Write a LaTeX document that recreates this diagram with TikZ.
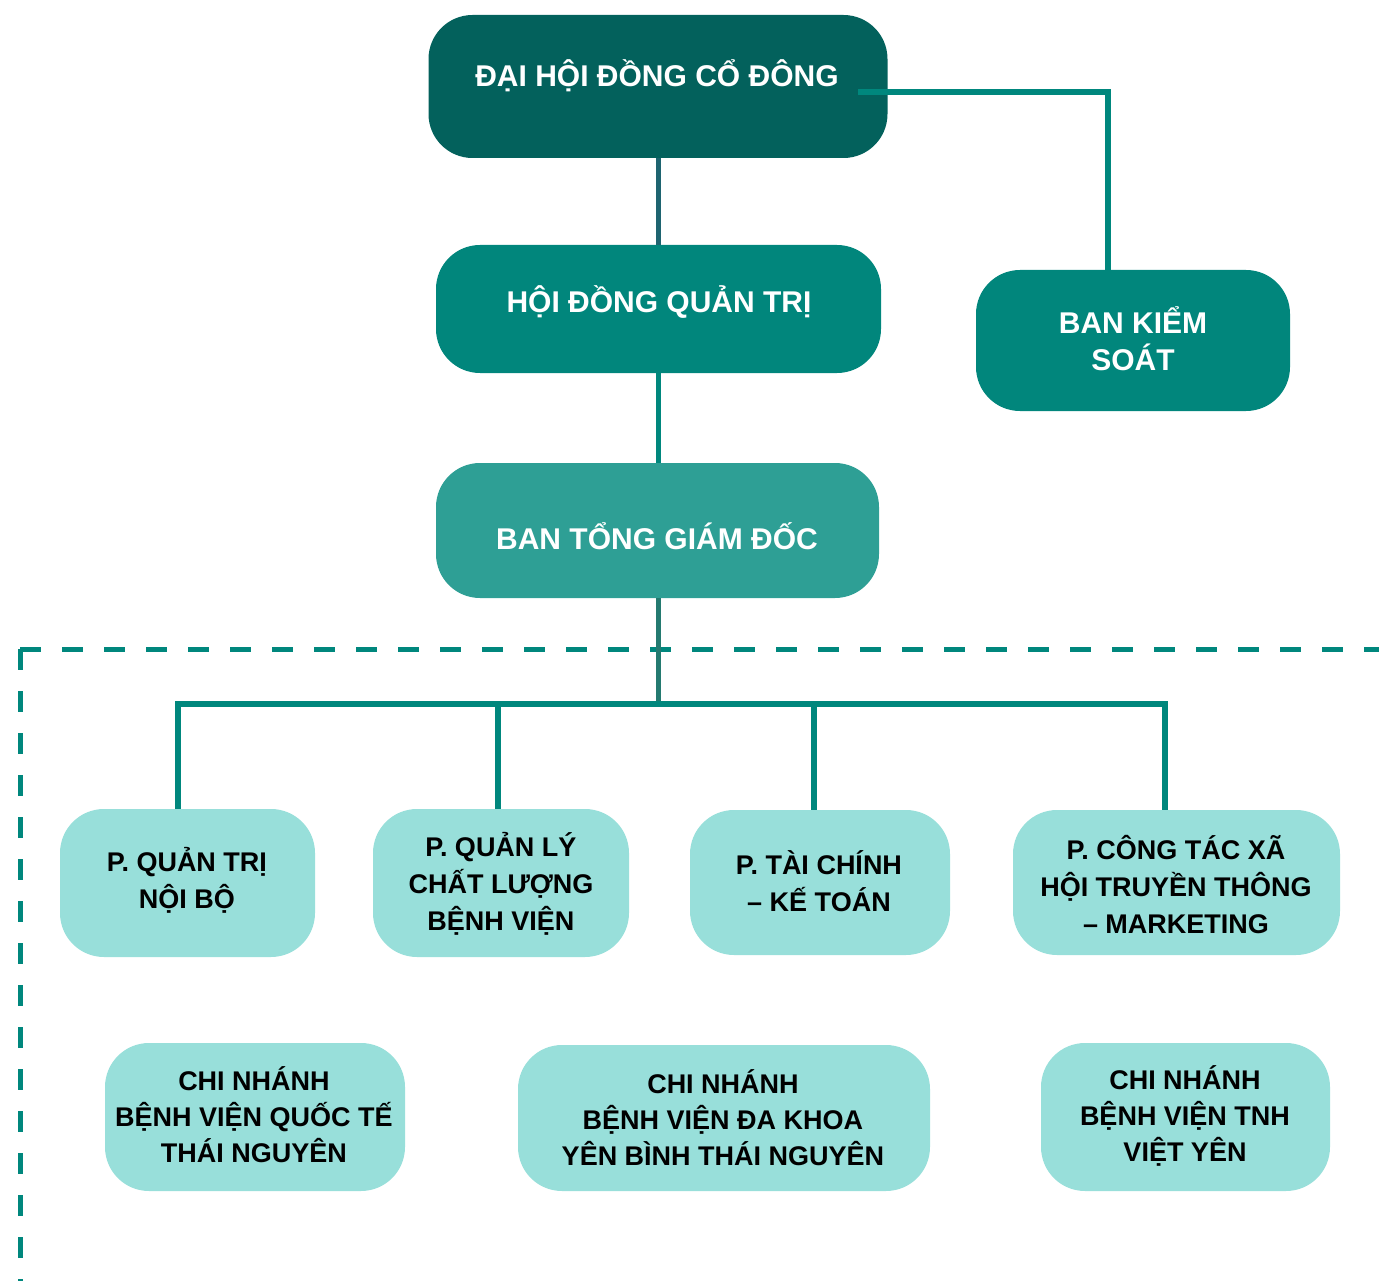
\documentclass[tikz,border=0pt]{standalone}
\usepackage{fontspec}
\setmainfont{Liberation Sans}
\definecolor{cdark}{HTML}{03615C}
\definecolor{cmid}{HTML}{01867C}
\definecolor{cbtgd}{HTML}{2E9F95}
\definecolor{clight}{HTML}{98DFDA}
\definecolor{cline}{HTML}{00877D}
\definecolor{clineA}{HTML}{1E6470}
\definecolor{clineB}{HTML}{247A70}
\begin{document}
\begin{tikzpicture}[x=1pt,y=-1pt,
  box/.style={draw=none, rounded corners=44pt, inner sep=0pt},
  bigtxt/.style={text=white, font=\fontsize{30}{37}\selectfont\bfseries, align=center, inner sep=0pt},
  smalltxt/.style={text=black, font=\fontsize{27}{37}\selectfont\bfseries, align=center, inner sep=0pt},
  chitxt/.style={text=black, font=\fontsize{27}{36}\selectfont\bfseries, align=center, inner sep=0pt},
  conn/.style={draw=cline, line width=5.5pt},
  dashline/.style={draw=cline, line width=5pt, dash pattern=on 21pt off 21pt}
]
\useasboundingbox (0,0) rectangle (1379,1281);

% dashed frame
\coordinate (dc) at (20,649);
\coordinate (dr) at (1390,649);
\coordinate (db) at (20,1295);
\draw[dashline] (dc) -- (dr);
\draw[dashline] (dc) -- (db);

% top boxes
\node[box, fill=cdark, minimum width=459pt, minimum height=143pt] (dhcd) at (658,86.5) {};
\node[bigtxt, anchor=base] (dhcdt) at (657,87) {ĐẠI HỘI ĐỒNG CỔ ĐÔNG};

\node[box, fill=cmid, minimum width=445pt, minimum height=128pt] (hdqt) at (658.5,309) {};
\node[bigtxt, anchor=base] (hdqtt) at (659,313) {HỘI ĐỒNG QUẢN TRỊ};

\node[box, fill=cmid, minimum width=314pt, minimum height=141pt] (bks) at (1133,340.5) {};
\node[bigtxt] (bkst) at (1133,339) {BAN KIỂM\\SOÁT};

\node[box, fill=cbtgd, minimum width=443pt, minimum height=135pt] (btgd) at (657.5,530.5) {};
\node[bigtxt, anchor=base] (btgdt) at (657,549) {BAN TỔNG GIÁM ĐỐC};

% department boxes
\node[box, fill=clight, minimum width=255pt, minimum height=148pt] (p1) at (187.5,883) {};
\node[smalltxt] (p1t) at (187,880) {P. QUẢN TRỊ\\NỘI BỘ};

\node[box, fill=clight, minimum width=256pt, minimum height=148pt] (p2) at (501,883) {};
\node[smalltxt] (p2t) at (501,884) {P. QUẢN LÝ\\CHẤT LƯỢNG\\BỆNH VIỆN};

\node[box, fill=clight, minimum width=260pt, minimum height=145pt] (p3) at (820,882.5) {};
\node[smalltxt] (p3t) at (819,881) {P. TÀI CHÍNH\\– KẾ TOÁN};

\node[box, fill=clight, minimum width=327pt, minimum height=145pt] (p4) at (1176.5,882.5) {};
\node[smalltxt] (p4t) at (1176,885) {P. CÔNG TÁC XÃ\\HỘI TRUYỀN THÔNG\\– MARKETING};

% branch boxes
\node[box, fill=clight, minimum width=300pt, minimum height=148pt] (c1) at (255,1117) {};
\node[chitxt] (c1t) at (254,1115) {CHI NHÁNH\\BỆNH VIỆN QUỐC TẾ\\THÁI NGUYÊN};

\node[box, fill=clight, minimum width=412pt, minimum height=146pt] (c2) at (724,1118) {};
\node[chitxt] (c2t) at (723,1118) {CHI NHÁNH\\BỆNH VIỆN ĐA KHOA\\YÊN BÌNH THÁI NGUYÊN};

\node[box, fill=clight, minimum width=289pt, minimum height=148pt] (c3) at (1185.5,1117) {};
\node[chitxt] (c3t) at (1185,1116) {CHI NHÁNH\\BỆNH VIỆN TNH\\VIỆT YÊN};

% connectors
\coordinate (dstart) at (858,92);
\coordinate (bksx) at (1108,92);
\draw[conn] (dstart) -- (bksx) -- (bksx |- bks.north);

\coordinate (spine) at (658,0);
\draw[draw=clineA, line width=5pt] (spine |- dhcd.south) -- (spine |- hdqt.north);
\draw[conn, line width=5pt] (spine |- hdqt.south) -- (spine |- btgd.north);

\coordinate (bus) at (658,704);
\draw[draw=clineB, line width=5pt] (spine |- btgd.south) -- (bus);

\coordinate (b1) at (178,704);
\coordinate (b2) at (498,704);
\coordinate (b3) at (814,704);
\coordinate (b4) at (1165,704);
\draw[conn] (b1 |- p1.north) -- (b1) -- (b4) -- (b4 |- p4.north);
\draw[conn] (b2) -- (b2 |- p2.north);
\draw[conn] (b3) -- (b3 |- p3.north);
\end{tikzpicture}
\end{document}
